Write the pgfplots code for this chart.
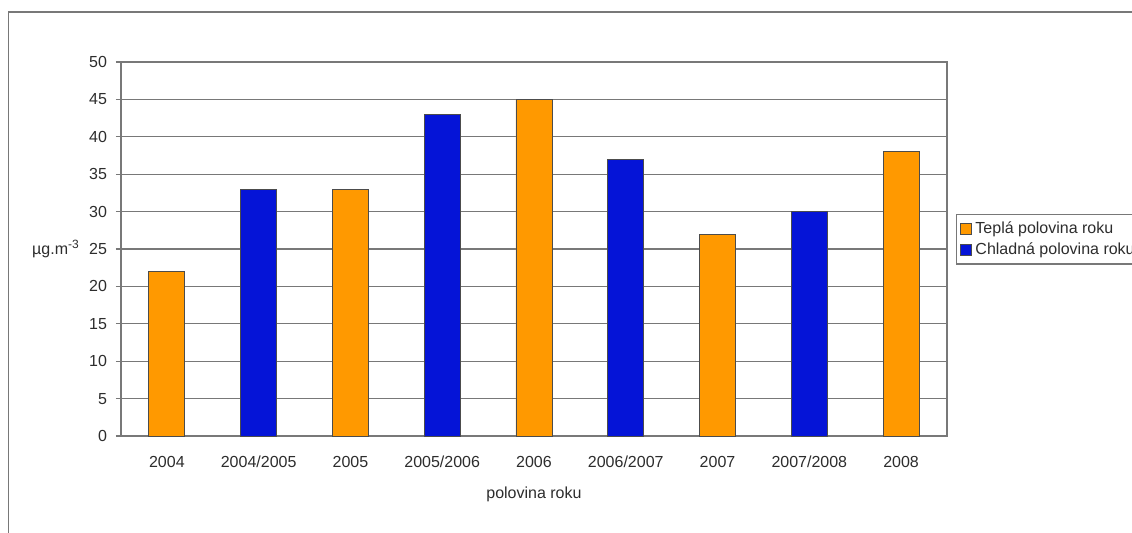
\documentclass[border=0pt]{standalone}
\usepackage{pgfplots}
\pgfplotsset{compat=1.18}
\usepackage{fontspec}
\setmainfont{Liberation Sans}
\definecolor{teplo}{RGB}{255,153,0}
\definecolor{chlad}{RGB}{5,20,215}
\definecolor{gridc}{RGB}{120,120,120}
\definecolor{txt}{RGB}{45,45,45}
\begin{document}
\begin{tikzpicture}
\path[use as bounding box, clip] (0,0) rectangle (566pt,266pt);
\fill[white] (0,0) rectangle (566pt,266pt);
\draw[gridc, line width=0.75pt] (4.25pt,-5pt) -- (4.25pt,260pt) -- (580pt,260pt);
\begin{axis}[
  at={(60.5pt,48pt)}, anchor=south west,
  scale only axis, width=413pt, height=187pt,
  xmin=-0.5, xmax=8.5, ymin=0, ymax=50,
  ytick={0,5,...,50},
  xtick={0,...,8},
  xticklabels={2004,2004/2005,2005,2005/2006,2006,2006/2007,2007,2007/2008,2008},
  major x tick style={draw=none},
  extra x ticks={-0.5,0.5,...,8.5},
  extra x tick labels={},
  extra x tick style={major tick length=2.5pt, tick style={draw=gridc, line width=0.6pt}, grid=none, xtick pos=bottom},
  tick pos=left,
  tick align=outside,
  major tick length=2.5pt,
  tick style={draw=gridc, line width=0.6pt},
  ymajorgrids,
  grid style={draw=gridc, line width=0.6pt},
  axis line style={draw=gridc, line width=0.6pt},
  font=\fontsize{8pt}{9.6pt}\selectfont,
  ticklabel style={text=txt, font=\fontsize{8pt}{9.6pt}\selectfont},
  /pgf/number format/assume math mode=true,
  yticklabel style={xshift=-1pt},
  xticklabel style={yshift=-4pt},
  xlabel={polovina roku},
  xlabel style={text=txt, at={(axis description cs:0.5,0)}, anchor=north, yshift=-22pt},
  ylabel={µg.m\textsuperscript{-3}},
  ylabel style={text=txt, rotate=-90, at={(axis description cs:0,0.5)}, anchor=center, xshift=-32.5pt},
  ybar, bar width=18pt, bar shift=0pt,
  legend style={at={(axis description cs:1.011,0.594)}, anchor=north west,
    draw=gridc, line width=0.6pt, font=\fontsize{8pt}{9.6pt}\selectfont, text=txt,
    inner sep=1.5pt, row sep=-1pt,
    legend cell align=left},
  legend image code/.code={\draw[#1, line width=0.4pt] (0pt,-2.75pt) rectangle (5.5pt,2.75pt);},
]
\addplot[fill=teplo, draw=black!70, line width=0.4pt] coordinates {(0,22) (2,33) (4,45) (6,27) (8,38)};
\addplot[fill=chlad, draw=black!70, line width=0.4pt] coordinates {(1,33) (3,43) (5,37) (7,30)};
\legend{Teplá polovina roku, Chladná polovina roku}
\end{axis}
\end{tikzpicture}
\end{document}
